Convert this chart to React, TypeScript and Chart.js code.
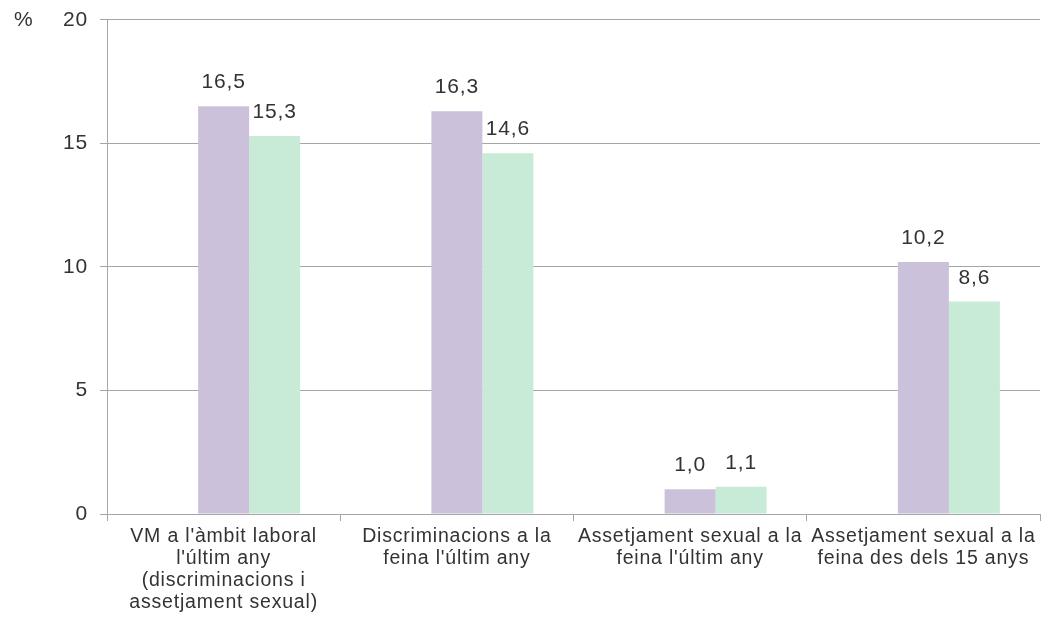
import React, { useEffect, useRef } from "react";
import { Chart, registerables } from "chart.js";

Chart.register(...registerables);

const categories: string[][] = [
  ["VM a l'àmbit laboral", "l'últim any", "(discriminacions i", "assetjament sexual)"],
  ["Discriminacions a la", "feina l'últim any"],
  ["Assetjament sexual a la", "feina l'últim any"],
  ["Assetjament sexual a la", "feina des dels 15 anys"],
];
const seriesA: number[] = [16.5, 16.3, 1.0, 10.2];
const seriesB: number[] = [15.3, 14.6, 1.1, 8.6];
const yTicks: number[] = [0, 5, 10, 15, 20];
const unitLabel = "%";

const FONT = "'Liberation Sans', Arial, sans-serif";
const TEXT = "#333333";
const GRID = "#a6a6a6";
const SPACING = "0.8px";

const fmt = (v: number) => v.toFixed(1).replace(".", ",");

export default function App() {
  const ref = useRef<HTMLCanvasElement | null>(null);

  useEffect(() => {
    document.body.style.margin = "0";
    if (!ref.current) return;

    const spacingPlugin = {
      id: "spacing",
      beforeDraw(chart: any) {
        chart.ctx.letterSpacing = SPACING;
      },
      afterDraw(chart: any) {
        chart.ctx.letterSpacing = "0px";
      },
    };

    const labelsPlugin = {
      id: "valueLabels",
      afterDatasetsDraw(chart: any) {
        const ctx = chart.ctx;
        ctx.save();
        ctx.font = `21px ${FONT}`;
        ctx.fillStyle = TEXT;
        ctx.textAlign = "center";
        ctx.textBaseline = "alphabetic";
        [1, 2].forEach((di) => {
          const meta = chart.getDatasetMeta(di);
          const data = chart.data.datasets[di].data as number[];
          meta.data.forEach((bar: any, i: number) => {
            const v = data[i];
            if (v == null) return;
            ctx.fillText(fmt(v), bar.x, bar.y - 18);
          });
        });
        const y = chart.scales.y;
        ctx.textAlign = "left";
        ctx.textBaseline = "middle";
        ctx.fillText(unitLabel, 14, y.getPixelForValue(yTicks[yTicks.length - 1]));
        ctx.restore();
      },
    };

    const chart = new Chart(ref.current, {
      type: "bar",
      data: {
        labels: categories,
        datasets: [
          {
            label: "",
            data: categories.map(() => null),
            backgroundColor: "rgba(0,0,0,0)",
          },
          {
            label: "A",
            data: seriesA,
            backgroundColor: "#cbc1da",
          },
          {
            label: "B",
            data: seriesB,
            backgroundColor: "#c8ebd8",
          },
        ],
      },
      options: {
        animation: false,
        responsive: true,
        maintainAspectRatio: false,
        layout: { padding: { top: 10, right: 1, bottom: 2, left: 0 } },
        datasets: {
          bar: { barPercentage: 1, categoryPercentage: 0.656 },
        },
        plugins: {
          legend: { display: false },
          tooltip: { enabled: false },
        },
        scales: {
          x: {
            grid: {
              offset: true,
              drawOnChartArea: false,
              drawTicks: true,
              tickLength: 7,
              color: GRID,
            },
            border: { color: GRID, width: 1 },
            ticks: {
              color: TEXT,
              font: { family: FONT, size: 19.5, lineHeight: "22px" },
              padding: 5,
              maxRotation: 0,
              minRotation: 0,
              autoSkip: false,
            },
          },
          y: {
            min: 0,
            max: 20,
            afterFit(scale: any) {
              scale.width = 107;
            },
            afterBuildTicks(scale: any) {
              scale.ticks = yTicks.map((v) => ({ value: v }));
            },
            grid: {
              color: GRID,
              tickLength: 7,
              drawTicks: true,
            },
            border: { color: GRID, width: 1 },
            ticks: {
              color: TEXT,
              font: { family: FONT, size: 21, lineHeight: 0.75 },
              padding: 12,
            },
          },
        },
      },
      plugins: [spacingPlugin, labelsPlugin],
    } as any);

    return () => chart.destroy();
  }, []);

  return (
    <div style={{ position: "fixed", left: 0, top: 0, width: 1041, height: 621, background: "#fff" }}>
      <canvas ref={ref} />
    </div>
  );
}
